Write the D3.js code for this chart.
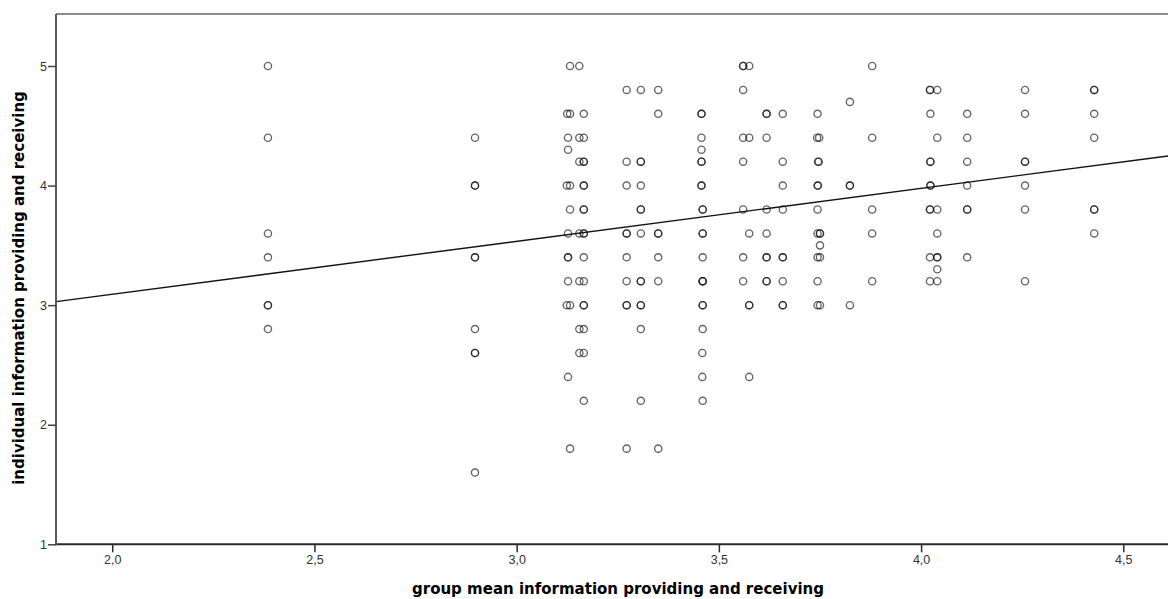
<!DOCTYPE html>
<html>
<head>
<meta charset="utf-8">
<script src="https://cdn.jsdelivr.net/npm/d3@7"></script>
<style>
  html, body { margin: 0; padding: 0; background: #fff; }
  svg { display: block; }
  text { font-family: "Liberation Sans", Arial, sans-serif; }
</style>
</head>
<body>
<svg id="chart" width="1168" height="599"></svg>
<script>
// ---------------- data ----------------
const xTickValues = [2.0, 2.5, 3.0, 3.5, 4.0, 4.5];
const xTickLabels = ["2,0", "2,5", "3,0", "3,5", "4,0", "4,5"];
const yTickValues = [1, 2, 3, 4, 5];
const yTickLabels = ["1", "2", "3", "4", "5"];
const xTitle = "group mean information providing and receiving";
const yTitle = "individual information providing and receiving";
const xDomain = [1.861, 4.6105];
const yDomain = [1, 5.435];
// fit line: individual = intercept + slope * groupMean
const fitIntercept = 2.205;
const fitSlope = 0.443;

// [group mean, individual]
const points = [
  // 2.385
  [2.385,5.0],[2.385,4.4],[2.385,3.6],[2.385,3.4],[2.385,3.0],[2.385,3.0],[2.385,2.8],
  // 2.897
  [2.897,4.4],[2.897,4.0],[2.897,4.0],[2.897,3.4],[2.897,3.4],[2.897,2.8],[2.897,2.6],[2.897,2.6],[2.897,1.6],
  // 3.12 - 3.17
  [3.132,5.0],[3.155,5.0],
  [3.125,4.6],[3.132,4.6],[3.166,4.6],
  [3.127,4.4],[3.155,4.4],[3.166,4.4],
  [3.127,4.3],
  [3.155,4.2],[3.166,4.2],[3.166,4.2],
  [3.124,4.0],[3.132,4.0],[3.166,4.0],[3.166,4.0],
  [3.132,3.8],[3.166,3.8],[3.166,3.8],
  [3.127,3.6],[3.155,3.6],[3.166,3.6],[3.166,3.6],
  [3.127,3.4],[3.127,3.4],[3.166,3.4],
  [3.127,3.2],[3.155,3.2],[3.166,3.2],
  [3.124,3.0],[3.132,3.0],[3.166,3.0],[3.166,3.0],
  [3.155,2.8],[3.166,2.8],
  [3.155,2.6],[3.166,2.6],
  [3.127,2.4],
  [3.166,2.2],
  [3.132,1.8],
  // 3.272
  [3.272,4.8],[3.272,4.2],[3.272,4.0],[3.272,3.6],[3.272,3.6],[3.272,3.4],[3.272,3.2],[3.272,3.0],[3.272,3.0],[3.272,1.8],
  // 3.307
  [3.307,4.8],[3.307,4.2],[3.307,4.2],[3.307,4.0],[3.307,3.8],[3.307,3.8],[3.307,3.6],[3.307,3.2],[3.307,3.2],[3.307,3.0],[3.307,3.0],[3.307,2.8],[3.307,2.2],
  // 3.350
  [3.350,4.8],[3.350,4.6],[3.350,3.6],[3.350,3.6],[3.350,3.4],[3.350,3.2],[3.350,1.8],
  // 3.458
  [3.457,4.6],[3.457,4.6],[3.457,4.4],[3.457,4.3],[3.457,4.2],[3.457,4.2],[3.457,4.0],[3.457,4.0],
  [3.460,3.8],[3.460,3.8],[3.460,3.6],[3.460,3.6],[3.460,3.4],[3.460,3.2],[3.460,3.2],[3.460,3.2],
  [3.460,3.0],[3.460,3.0],[3.460,2.8],[3.459,2.6],[3.459,2.4],[3.460,2.2],
  // 3.560 / 3.575
  [3.560,5.0],[3.560,5.0],[3.575,5.0],
  [3.560,4.8],
  [3.560,4.4],[3.575,4.4],
  [3.560,4.2],
  [3.560,3.8],
  [3.575,3.6],
  [3.560,3.4],
  [3.560,3.2],
  [3.575,3.0],[3.575,3.0],
  [3.575,2.4],
  // 3.618
  [3.618,4.6],[3.618,4.6],[3.618,4.4],[3.618,3.8],[3.618,3.6],[3.618,3.4],[3.618,3.4],[3.618,3.2],[3.618,3.2],
  // 3.658
  [3.658,4.6],[3.658,4.2],[3.658,4.0],[3.658,3.8],[3.658,3.4],[3.658,3.4],[3.658,3.2],[3.658,3.0],[3.658,3.0],
  // 3.744 / 3.750
  [3.744,4.6],
  [3.743,4.4],[3.748,4.4],
  [3.745,4.2],[3.747,4.2],
  [3.744,4.0],[3.745,4.0],
  [3.744,3.8],
  [3.744,3.6],[3.750,3.6],[3.750,3.6],
  [3.750,3.5],
  [3.744,3.4],[3.750,3.4],
  [3.744,3.2],
  [3.744,3.0],[3.750,3.0],
  // 3.824
  [3.824,4.7],[3.824,4.0],[3.824,4.0],[3.824,3.0],
  // 3.879
  [3.879,5.0],[3.879,4.4],[3.879,3.8],[3.879,3.6],[3.879,3.2],
  // 4.022 / 4.040
  [4.022,4.8],[4.022,4.8],[4.040,4.8],
  [4.023,4.6],
  [4.040,4.4],
  [4.023,4.2],[4.023,4.2],
  [4.023,4.0],[4.023,4.0],
  [4.022,3.8],[4.022,3.8],[4.040,3.8],
  [4.040,3.6],
  [4.022,3.4],[4.040,3.4],[4.040,3.4],
  [4.040,3.3],
  [4.022,3.2],[4.040,3.2],
  // 4.114
  [4.114,4.6],[4.114,4.4],[4.114,4.2],[4.114,4.0],[4.114,3.8],[4.114,3.8],[4.114,3.4],
  // 4.257
  [4.257,4.8],[4.257,4.6],[4.257,4.2],[4.257,4.2],[4.257,4.0],[4.257,3.8],[4.257,3.2],
  // 4.428
  [4.428,4.8],[4.428,4.8],[4.428,4.6],[4.428,4.4],[4.428,3.8],[4.428,3.8],[4.428,3.6]
];

// ---------------- drawing ----------------
(function () {
  const padL = 56, padR = 1168, padT = 14, padB = 544.3;
  const svg = d3.select("#chart");

  const x = d3.scaleLinear().domain(xDomain).range([padL, padR]);
  const y = d3.scaleLinear().domain(yDomain).range([padB, padT]);

  // top frame line
  svg.append("line")
    .attr("x1", padL).attr("x2", padR)
    .attr("y1", padT).attr("y2", padT)
    .attr("stroke", "#8a8a8a").attr("stroke-width", 2);

  // points
  svg.append("g")
    .selectAll("circle")
    .data(points)
    .join("circle")
    .attr("cx", d => x(d[0]))
    .attr("cy", d => y(d[1]))
    .attr("r", 3.6)
    .attr("fill", "none")
    .attr("stroke", "#111")
    .attr("stroke-opacity", 0.65)
    .attr("stroke-width", 1.35);

  // fit line
  svg.append("line")
    .attr("x1", x(xDomain[0])).attr("y1", y(fitIntercept + fitSlope * xDomain[0]))
    .attr("x2", x(xDomain[1])).attr("y2", y(fitIntercept + fitSlope * xDomain[1]))
    .attr("stroke", "#111").attr("stroke-width", 1.4);

  const tickFont = "'Liberation Sans', Arial, sans-serif";

  // x axis
  const xAxis = d3.axisBottom(x)
    .tickValues(xTickValues)
    .tickFormat((d, i) => xTickLabels[i])
    .tickSize(8)
    .tickSizeOuter(0)
    .tickPadding(3);
  const gx = svg.append("g").attr("transform", `translate(0,${padB})`).call(xAxis);
  gx.attr("font-size", null).attr("font-family", null);
  gx.select(".domain").attr("stroke", "#2a2a2a").attr("stroke-width", 2)
    .attr("d", `M${padL - 1},0H${padR}`);
  gx.selectAll(".tick line").attr("stroke", "#2a2a2a").attr("stroke-width", 1.5);
  gx.selectAll(".tick text").attr("fill", "#333")
    .style("font-size", "12.5px").style("font-family", tickFont);

  // y axis
  const yAxis = d3.axisLeft(y)
    .tickValues(yTickValues)
    .tickFormat((d, i) => yTickLabels[i])
    .tickSize(8)
    .tickSizeOuter(0)
    .tickPadding(1);
  const gy = svg.append("g").attr("transform", `translate(${padL},0)`).call(yAxis);
  gy.attr("font-size", null).attr("font-family", null);
  gy.select(".domain").attr("stroke", "#5a5a5a").attr("stroke-width", 2)
    .attr("d", `M0,${padT}V${padB + 1}`);
  gy.selectAll(".tick line").attr("stroke", "#444").attr("stroke-width", 1.5);
  gy.selectAll(".tick text").attr("fill", "#333")
    .style("font-size", "12.5px").style("font-family", tickFont);

  const titleFont = "'DejaVu Sans', Verdana, sans-serif";

  // titles
  svg.append("text")
    .attr("x", 618).attr("y", 594)
    .attr("text-anchor", "middle")
    .style("font-size", "15px").style("font-weight", "bold").style("font-family", titleFont)
    .attr("fill", "#000")
    .text(xTitle);

  svg.append("text")
    .attr("transform", "translate(23.5,288) rotate(-90)")
    .attr("text-anchor", "middle")
    .style("font-size", "15px").style("font-weight", "bold").style("font-family", titleFont)
    .attr("fill", "#000")
    .text(yTitle);
})();
</script>
</body>
</html>
